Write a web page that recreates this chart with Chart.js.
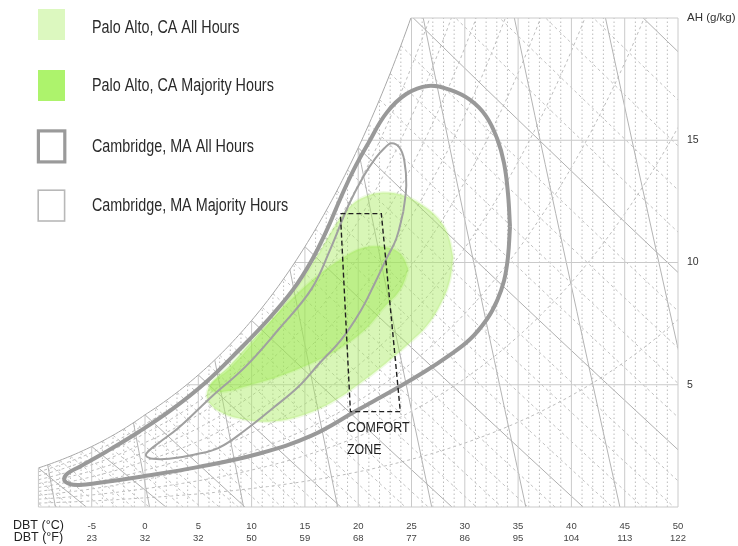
<!DOCTYPE html>
<html><head><meta charset="utf-8">
<script src="https://cdn.jsdelivr.net/npm/chart.js@4.4.1/dist/chart.umd.min.js"></script>
<style>html,body{margin:0;padding:0;background:#fff}#wrap{width:738px;height:546px}</style>
</head><body><div id="wrap"><canvas id="c" width="738" height="546"></canvas></div>
<script>
const SANS = '"Liberation Sans", Arial, sans-serif';

// ---- axis labels ----
const dbtC = [-10, -5, 0, 5, 10, 15, 20, 25, 30, 35, 40, 45, 50];
const dbtF = ['', '23', '32', '32', '50', '59', '68', '77', '86', '95', '104', '113', '122'];
const dbtTitleC = 'DBT (°C)';
const dbtTitleF = 'DBT (°F)';
const ahTicks = [5, 10, 15];
const ahTitle = 'AH (g/kg)';

// ---- series: [dry-bulb °C, absolute humidity g/kg] ----
const paloAltoAll = [[28.91,10.23],[28.63,9.33],[27.97,8.51],[26.57,7.48],[24.88,6.74],[22.83,5.96],[20.67,5.22],[17.49,4.27],[14.41,3.70],[11.60,3.49],[9.26,3.58],[7.39,3.82],[6.17,4.19],[5.80,4.60],[6.36,5.10],[7.86,5.63],[10.95,7.15],[14.13,8.92],[16.28,10.36],[18.15,11.71],[19.55,12.41],[20.95,12.74],[22.36,12.86],[24.23,12.74],[25.91,12.37],[27.50,11.80],[28.44,11.10],[28.91,10.23]];
const paloAltoMajority = [[24.70,9.74],[24.23,9.12],[23.57,8.67],[22.54,8.22],[20.67,7.27],[18.15,6.45],[15.62,5.88],[12.54,5.34],[9.73,4.97],[7.67,4.73],[6.36,4.73],[6.08,4.97],[6.74,5.30],[8.05,5.84],[9.73,6.66],[12.54,7.97],[15.62,9.25],[18.15,10.07],[20.49,10.60],[22.83,10.60],[24.04,10.32],[24.70,9.74]];
const cambridgeAll = [[34.24,11.47],[34.05,10.23],[33.68,9.25],[33.02,8.43],[32.09,7.69],[30.49,6.86],[28.44,6.17],[26.29,5.55],[23.11,4.73],[20.02,3.99],[15.62,2.92],[10.66,2.18],[5.05,1.64],[-0.56,1.23],[-4.30,0.99],[-6.17,0.90],[-7.11,0.95],[-7.58,1.11],[-7.30,1.36],[-6.17,1.64],[-3.65,2.26],[-0.56,3.08],[2.53,3.99],[5.71,5.10],[8.79,6.41],[11.60,7.69],[13.94,8.92],[15.62,10.07],[17.03,11.30],[18.33,12.62],[19.55,13.77],[20.95,14.88],[22.64,16.11],[24.51,16.89],[26.57,17.22],[28.63,17.06],[30.50,16.65],[31.99,15.99],[33.02,15.08],[33.68,14.06],[34.05,12.82],[34.24,11.47]];
const cambridgeMajority = [[24.23,12.08],[23.57,10.97],[22.64,10.15],[21.52,9.12],[20.21,8.01],[18.43,6.86],[16.28,5.84],[14.41,4.93],[12.07,4.07],[9.45,3.16],[6.92,2.42],[4.58,2.14],[2.25,1.97],[0.75,1.97],[0.09,2.10],[0.37,2.30],[1.31,2.63],[3.18,3.25],[6.27,4.52],[9.45,5.75],[12.54,7.27],[15.62,8.92],[17.40,10.56],[19.08,12.33],[20.49,13.52],[21.61,14.26],[22.45,14.67],[23.11,14.88],[23.86,14.71],[24.32,14.18],[24.51,13.15],[24.23,12.08]];
const comfortZone = [[18.33,12.0],[22.17,12.0],[23.95,3.9],[19.27,3.9],[18.33,12.0]];
const comfortLabel = ['COMFORT', 'ZONE'];
const seriesLabels = ['Palo Alto, CA All Hours', 'Palo Alto, CA Majority Hours', 'Cambridge, MA All Hours', 'Cambridge, MA Majority Hours'];

const toXY = a => a.map(([x, y]) => ({x, y}));

// ---- psychrometric helpers for the background grid ----
function psat(T) { return T >= 0 ? 0.61078 * Math.exp(17.27 * T / (T + 237.3)) : 0.61078 * Math.exp(21.875 * T / (T + 265.5)); }
function wsat(T, phi = 1) { const p = phi * psat(T); return 622 * p / (101.325 - p); }
function wWet(T, Twb) {
  const ws = wsat(Twb) / 1000; let w;
  if (Twb >= 0) w = ((2501 - 2.326 * Twb) * ws - 1.006 * (T - Twb)) / (2501 + 1.86 * T - 4.186 * Twb);
  else w = ((2830 - 0.24 * Twb) * ws - 1.006 * (T - Twb)) / (2830 + 1.86 * T - 2.1 * Twb);
  return w * 1000;
}
function tTop() { let a = 20, b = 30; for (let i = 0; i < 40; i++) { const m = (a + b) / 2; if (wsat(m) > 20) b = m; else a = m; } return (a + b) / 2; }

const psychGrid = {
  id: 'psychGrid',
  beforeDatasetsDraw(chart) {
    const {ctx, scales: {x, y}} = chart;
    const P = (T, W) => [x.getPixelForValue(T), y.getPixelForValue(W)];
    const line = (pts, color, width, dash) => {
      ctx.beginPath(); ctx.strokeStyle = color; ctx.lineWidth = width; ctx.setLineDash(dash || []);
      pts.forEach((p, i) => { const q = P(p[0], p[1]); i ? ctx.lineTo(q[0], q[1]) : ctx.moveTo(q[0], q[1]); });
      ctx.stroke();
    };
    const tt = tTop();
    const sat = [];
    for (let T = -10; T < tt; T += 0.25) sat.push([T, wsat(T)]);
    sat.push([tt, 20]);
    ctx.save();
    ctx.beginPath();
    let q = P(-10, 0); ctx.moveTo(q[0], q[1]);
    sat.forEach(p => { const r = P(p[0], p[1]); ctx.lineTo(r[0], r[1]); });
    q = P(50, 20); ctx.lineTo(q[0], q[1]);
    q = P(50, 0); ctx.lineTo(q[0], q[1]);
    ctx.closePath(); ctx.clip();

    for (let T = -9; T < 50; T++) if (T % 5) line([[T, 0], [T, 20]], '#bcbcbc', 1, [1.5, 2.5]);
    for (let phi = 0.1; phi < 0.95; phi += 0.1) {
      const pts = []; for (let T = -10; T <= 50; T += 0.5) pts.push([T, wsat(T, phi)]);
      line(pts, '#bdbdbd', 1, [3, 3]);
    }
    for (let Twb = -14; Twb <= 32; Twb++) {
      const pts = [];
      for (let T = Twb; T <= 50.01; T += 1) {
        const w = wWet(T, Twb);
        if (w < 0) { const wp = wWet(T - 1, Twb); const f = wp / (wp - w); pts.push([T - 1 + f, 0]); break; }
        pts.push([T, w]);
      }
      if (pts.length < 2) continue;
      if (Twb % 5 === 0) line(pts, '#b0b0b0', 1);
      else line(pts, '#c2c2c2', 1, [3, 3]);
    }
    for (let v = 0.75; v < 0.94; v += 0.025) {
      const pts = []; for (let W = 0; W <= 20; W += 2) pts.push([v * 101.325 / (0.287042 * (1 + 1.6078 * W / 1000)) - 273.15, W]);
      line(pts, '#b4b4b4', 1);
    }
    for (let T = -5; T < 50; T += 5) line([[T, 0], [T, 20]], '#cacaca', 1);
    for (let W = 5; W < 20; W += 5) line([[-10, W], [50, W]], '#cacaca', 1);
    ctx.restore();

    ctx.save();
    line(sat, '#a8a8a8', 1);
    line([[tt, 20], [50, 20], [50, 0], [-10, 0], [-10, wsat(-10)]], '#cacaca', 1);
    ctx.restore();
  }
};

function narrowText(ctx, text, px, py, size, scale) {
  ctx.save();
  ctx.translate(px, py); ctx.scale(scale, 1);
  ctx.font = size + 'px ' + SANS;
  ctx.fillText(text, 0, 0);
  ctx.restore();
}

const overlay = {
  id: 'overlay',
  afterDatasetsDraw(chart) {
    const {ctx, scales: {x, y}} = chart;
    ctx.save();
    ctx.fillStyle = '#1e1e1e'; ctx.textBaseline = 'alphabetic'; ctx.textAlign = 'left';
    const lx = x.getPixelForValue(18.95);
    narrowText(ctx, comfortLabel[0], lx, y.getPixelForValue(3.08), 15.5, 0.8);
    narrowText(ctx, comfortLabel[1], lx, y.getPixelForValue(2.15), 15.5, 0.8);
    ctx.restore();
  },
  afterDraw(chart) {
    const ctx = chart.ctx;
    ctx.save();
    ctx.fillStyle = '#dcf8bf'; ctx.fillRect(38, 9, 27, 31);
    ctx.fillStyle = '#adf36c'; ctx.fillRect(38, 70, 27, 31);
    ctx.strokeStyle = '#9a9a9a'; ctx.lineWidth = 3.2; ctx.strokeRect(38.4, 130.9, 26.4, 31);
    ctx.strokeStyle = '#b8b8b8'; ctx.lineWidth = 1.6; ctx.strokeRect(38.2, 190.2, 26.4, 30.8);
    ctx.fillStyle = '#2a2a2a'; ctx.textBaseline = 'alphabetic'; ctx.textAlign = 'left';
    [33, 90.5, 152, 211].forEach((yy, i) => narrowText(ctx, seriesLabels[i], 92, yy, 17.5, 0.82));
    ctx.restore();
  }
};

const lineDs = (label, data, color, width, order, extra) => Object.assign({
  label, data: toXY(data), showLine: true, borderColor: color, borderWidth: width,
  pointRadius: 0, pointHoverRadius: 0, tension: 0.4, fill: false, order
}, extra || {});

new Chart(document.getElementById('c'), {
  type: 'scatter',
  data: {
    datasets: [
      lineDs(seriesLabels[0], paloAltoAll, 'rgba(168,235,95,0.18)', 3, 5, {fill: 'shape', backgroundColor: 'rgba(168,235,95,0.45)'}),
      lineDs(seriesLabels[1], paloAltoMajority, 'rgba(150,230,70,0.15)', 3, 4, {fill: 'shape', backgroundColor: 'rgba(150,230,70,0.40)'}),
      lineDs(seriesLabels[2], cambridgeAll, '#999999', 4, 2),
      lineDs(seriesLabels[3], cambridgeMajority, '#a0a0a0', 2, 1),
      lineDs('Comfort zone', comfortZone, '#1f1f1f', 1.4, 0, {tension: 0, borderDash: [5, 3]})
    ]
  },
  options: {
    responsive: false, animation: false, devicePixelRatio: 1,
    layout: {padding: {left: 38, top: 18, right: 0, bottom: 0}},
    plugins: {legend: {display: false}, tooltip: {enabled: false}},
    scales: {
      x: {
        type: 'linear', min: -10, max: 50,
        grid: {display: false, drawTicks: false}, border: {display: false},
        afterBuildTicks: s => { s.ticks = dbtC.map(v => ({value: v})); },
        afterFit: s => { s.height = 39; },
        ticks: {
          padding: 13, maxRotation: 0, autoSkip: false,
          color: c => (c.tick && c.tick.value === -10) ? '#222' : '#444',
          font: c => (c.tick && c.tick.value === -10) ? {family: SANS, size: 12.5, lineHeight: '12px'} : {family: SANS, size: 9.5, lineHeight: '12px'},
          callback: (v) => { const i = dbtC.indexOf(v); if (i === 0) return [dbtTitleC, dbtTitleF]; return [String(v), dbtF[i]]; }
        }
      },
      y: {
        type: 'linear', position: 'right', min: 0, max: 20,
        grid: {display: false, drawTicks: false}, border: {display: false},
        afterBuildTicks: s => { s.ticks = [...ahTicks, 20].map(v => ({value: v})); },
        afterFit: s => { s.width = 60; },
        ticks: {
          padding: 9, color: '#333',
          font: c => (c.tick && c.tick.value === 20) ? {family: SANS, size: 11.5} : {family: SANS, size: 10.5},
          callback: v => v === 20 ? ahTitle : String(v)
        }
      }
    }
  },
  plugins: [psychGrid, overlay]
});
</script></body></html>
